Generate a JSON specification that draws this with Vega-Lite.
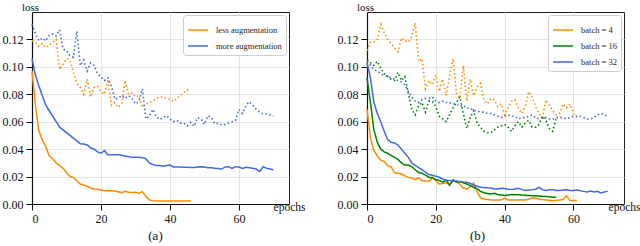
{
"$schema":"https://vega.github.io/schema/vega-lite/v6.json",
"background":"white",
"padding":{"left":1,"top":0,"right":0,"bottom":0},
"config":{
"font":"Liberation Serif, Times New Roman, serif",
"view":{"stroke":"#222","strokeWidth":1},
"axis":{"labelFont":"Liberation Serif, Times New Roman, serif","labelFontSize":12,"labelColor":"#111","tickColor":"#111","tickSize":6,"labelPadding":3,"domainColor":"#111","domainWidth":1.2,"gridColor":"#e3e3e3","gridWidth":1,"titleFont":"Liberation Serif, Times New Roman, serif","titleFontSize":11.5,"titleFontWeight":"normal","titleColor":"#111"},
"legend":{"orient":"top-right","offset":3,"fillColor":"rgba(255,255,255,0.85)","strokeColor":"#cccccc","cornerRadius":3,"padding":4,"symbolType":"stroke","symbolSize":400,"symbolStrokeWidth":1.5,"labelFont":"Liberation Serif, Times New Roman, serif","labelFontSize":8.5,"labelColor":"#222","rowPadding":-8.5,"labelOffset":7},
"title":{"font":"Liberation Serif, Times New Roman, serif","fontSize":13,"fontWeight":"normal","color":"#111"}
},
"datasets":{
"a":[
{"series":"less augmentation","kind":"train","epoch":0,"loss":0.097},{"series":"less augmentation","kind":"train","epoch":1,"loss":0.072},{"series":"less augmentation","kind":"train","epoch":2,"loss":0.053},{"series":"less augmentation","kind":"train","epoch":3,"loss":0.0465},{"series":"less augmentation","kind":"train","epoch":4,"loss":0.042},{"series":"less augmentation","kind":"train","epoch":5,"loss":0.035},{"series":"less augmentation","kind":"train","epoch":6,"loss":0.033},{"series":"less augmentation","kind":"train","epoch":7,"loss":0.030},{"series":"less augmentation","kind":"train","epoch":8,"loss":0.028},{"series":"less augmentation","kind":"train","epoch":9,"loss":0.026},
{"series":"less augmentation","kind":"train","epoch":10,"loss":0.023},{"series":"less augmentation","kind":"train","epoch":11,"loss":0.020},{"series":"less augmentation","kind":"train","epoch":12,"loss":0.0194},{"series":"less augmentation","kind":"train","epoch":13,"loss":0.017},{"series":"less augmentation","kind":"train","epoch":14,"loss":0.0146},{"series":"less augmentation","kind":"train","epoch":15,"loss":0.0138},{"series":"less augmentation","kind":"train","epoch":16,"loss":0.013},{"series":"less augmentation","kind":"train","epoch":17,"loss":0.0115},{"series":"less augmentation","kind":"train","epoch":18,"loss":0.011},{"series":"less augmentation","kind":"train","epoch":19,"loss":0.0108},
{"series":"less augmentation","kind":"train","epoch":20,"loss":0.0102},{"series":"less augmentation","kind":"train","epoch":21,"loss":0.0097},{"series":"less augmentation","kind":"train","epoch":22,"loss":0.0099},{"series":"less augmentation","kind":"train","epoch":23,"loss":0.0097},{"series":"less augmentation","kind":"train","epoch":24,"loss":0.0095},{"series":"less augmentation","kind":"train","epoch":25,"loss":0.009},{"series":"less augmentation","kind":"train","epoch":26,"loss":0.0083},{"series":"less augmentation","kind":"train","epoch":27,"loss":0.0093},{"series":"less augmentation","kind":"train","epoch":28,"loss":0.0086},{"series":"less augmentation","kind":"train","epoch":29,"loss":0.0084},
{"series":"less augmentation","kind":"train","epoch":30,"loss":0.0086},{"series":"less augmentation","kind":"train","epoch":31,"loss":0.0078},{"series":"less augmentation","kind":"train","epoch":32,"loss":0.009},{"series":"less augmentation","kind":"train","epoch":33,"loss":0.0055},{"series":"less augmentation","kind":"train","epoch":34,"loss":0.003},{"series":"less augmentation","kind":"train","epoch":35,"loss":0.0024},{"series":"less augmentation","kind":"train","epoch":36,"loss":0.0022},{"series":"less augmentation","kind":"train","epoch":37,"loss":0.0022},{"series":"less augmentation","kind":"train","epoch":38,"loss":0.0022},{"series":"less augmentation","kind":"train","epoch":39,"loss":0.0021},
{"series":"less augmentation","kind":"train","epoch":40,"loss":0.0021},{"series":"less augmentation","kind":"train","epoch":41,"loss":0.0021},{"series":"less augmentation","kind":"train","epoch":42,"loss":0.0021},{"series":"less augmentation","kind":"train","epoch":43,"loss":0.0021},{"series":"less augmentation","kind":"train","epoch":44,"loss":0.0022},{"series":"less augmentation","kind":"train","epoch":45,"loss":0.0022},{"series":"less augmentation","kind":"train","epoch":46,"loss":0.0023},
{"series":"less augmentation","kind":"val","epoch":0,"loss":0.119},{"series":"less augmentation","kind":"val","epoch":1,"loss":0.118},{"series":"less augmentation","kind":"val","epoch":2,"loss":0.115},{"series":"less augmentation","kind":"val","epoch":3,"loss":0.117},{"series":"less augmentation","kind":"val","epoch":4,"loss":0.114},{"series":"less augmentation","kind":"val","epoch":5,"loss":0.116},{"series":"less augmentation","kind":"val","epoch":6,"loss":0.118},{"series":"less augmentation","kind":"val","epoch":7,"loss":0.120},{"series":"less augmentation","kind":"val","epoch":8,"loss":0.098},{"series":"less augmentation","kind":"val","epoch":9,"loss":0.102},
{"series":"less augmentation","kind":"val","epoch":10,"loss":0.106},{"series":"less augmentation","kind":"val","epoch":11,"loss":0.105},{"series":"less augmentation","kind":"val","epoch":12,"loss":0.096},{"series":"less augmentation","kind":"val","epoch":13,"loss":0.088},{"series":"less augmentation","kind":"val","epoch":14,"loss":0.085},{"series":"less augmentation","kind":"val","epoch":15,"loss":0.080},{"series":"less augmentation","kind":"val","epoch":16,"loss":0.091},{"series":"less augmentation","kind":"val","epoch":17,"loss":0.078},{"series":"less augmentation","kind":"val","epoch":18,"loss":0.085},{"series":"less augmentation","kind":"val","epoch":19,"loss":0.086},
{"series":"less augmentation","kind":"val","epoch":20,"loss":0.082},{"series":"less augmentation","kind":"val","epoch":21,"loss":0.080},{"series":"less augmentation","kind":"val","epoch":22,"loss":0.091},{"series":"less augmentation","kind":"val","epoch":23,"loss":0.072},{"series":"less augmentation","kind":"val","epoch":24,"loss":0.074},{"series":"less augmentation","kind":"val","epoch":25,"loss":0.0705},{"series":"less augmentation","kind":"val","epoch":26,"loss":0.073},{"series":"less augmentation","kind":"val","epoch":27,"loss":0.090},{"series":"less augmentation","kind":"val","epoch":28,"loss":0.080},{"series":"less augmentation","kind":"val","epoch":29,"loss":0.081},
{"series":"less augmentation","kind":"val","epoch":30,"loss":0.078},{"series":"less augmentation","kind":"val","epoch":31,"loss":0.079},{"series":"less augmentation","kind":"val","epoch":32,"loss":0.0705},{"series":"less augmentation","kind":"val","epoch":33,"loss":0.073},{"series":"less augmentation","kind":"val","epoch":34,"loss":0.074},{"series":"less augmentation","kind":"val","epoch":35,"loss":0.075},{"series":"less augmentation","kind":"val","epoch":36,"loss":0.077},{"series":"less augmentation","kind":"val","epoch":37,"loss":0.078},{"series":"less augmentation","kind":"val","epoch":38,"loss":0.078},{"series":"less augmentation","kind":"val","epoch":39,"loss":0.077},
{"series":"less augmentation","kind":"val","epoch":40,"loss":0.0765},{"series":"less augmentation","kind":"val","epoch":41,"loss":0.0746},{"series":"less augmentation","kind":"val","epoch":42,"loss":0.077},{"series":"less augmentation","kind":"val","epoch":43,"loss":0.0794},{"series":"less augmentation","kind":"val","epoch":44,"loss":0.0814},{"series":"less augmentation","kind":"val","epoch":45,"loss":0.0833},{"series":"less augmentation","kind":"val","epoch":46,"loss":0.082},
{"series":"more augmentation","kind":"train","epoch":0,"loss":0.106},{"series":"more augmentation","kind":"train","epoch":1,"loss":0.094},{"series":"more augmentation","kind":"train","epoch":2,"loss":0.086},{"series":"more augmentation","kind":"train","epoch":3,"loss":0.079},{"series":"more augmentation","kind":"train","epoch":4,"loss":0.072},{"series":"more augmentation","kind":"train","epoch":5,"loss":0.068},{"series":"more augmentation","kind":"train","epoch":6,"loss":0.064},{"series":"more augmentation","kind":"train","epoch":7,"loss":0.060},{"series":"more augmentation","kind":"train","epoch":8,"loss":0.056},{"series":"more augmentation","kind":"train","epoch":9,"loss":0.054},
{"series":"more augmentation","kind":"train","epoch":10,"loss":0.052},{"series":"more augmentation","kind":"train","epoch":11,"loss":0.050},{"series":"more augmentation","kind":"train","epoch":12,"loss":0.048},{"series":"more augmentation","kind":"train","epoch":13,"loss":0.046},{"series":"more augmentation","kind":"train","epoch":14,"loss":0.044},{"series":"more augmentation","kind":"train","epoch":15,"loss":0.0437},{"series":"more augmentation","kind":"train","epoch":16,"loss":0.043},{"series":"more augmentation","kind":"train","epoch":17,"loss":0.041},{"series":"more augmentation","kind":"train","epoch":18,"loss":0.040},{"series":"more augmentation","kind":"train","epoch":19,"loss":0.038},
{"series":"more augmentation","kind":"train","epoch":20,"loss":0.037},{"series":"more augmentation","kind":"train","epoch":21,"loss":0.039},{"series":"more augmentation","kind":"train","epoch":22,"loss":0.0357},{"series":"more augmentation","kind":"train","epoch":23,"loss":0.036},{"series":"more augmentation","kind":"train","epoch":24,"loss":0.036},{"series":"more augmentation","kind":"train","epoch":25,"loss":0.036},{"series":"more augmentation","kind":"train","epoch":26,"loss":0.0355},{"series":"more augmentation","kind":"train","epoch":27,"loss":0.035},{"series":"more augmentation","kind":"train","epoch":28,"loss":0.0345},{"series":"more augmentation","kind":"train","epoch":29,"loss":0.034},
{"series":"more augmentation","kind":"train","epoch":30,"loss":0.034},{"series":"more augmentation","kind":"train","epoch":31,"loss":0.034},{"series":"more augmentation","kind":"train","epoch":32,"loss":0.0338},{"series":"more augmentation","kind":"train","epoch":33,"loss":0.033},{"series":"more augmentation","kind":"train","epoch":34,"loss":0.030},{"series":"more augmentation","kind":"train","epoch":35,"loss":0.0288},{"series":"more augmentation","kind":"train","epoch":36,"loss":0.028},{"series":"more augmentation","kind":"train","epoch":37,"loss":0.028},{"series":"more augmentation","kind":"train","epoch":38,"loss":0.0275},{"series":"more augmentation","kind":"train","epoch":39,"loss":0.028},
{"series":"more augmentation","kind":"train","epoch":40,"loss":0.0284},{"series":"more augmentation","kind":"train","epoch":41,"loss":0.027},{"series":"more augmentation","kind":"train","epoch":42,"loss":0.027},{"series":"more augmentation","kind":"train","epoch":43,"loss":0.027},{"series":"more augmentation","kind":"train","epoch":44,"loss":0.0268},{"series":"more augmentation","kind":"train","epoch":45,"loss":0.0268},{"series":"more augmentation","kind":"train","epoch":46,"loss":0.0267},{"series":"more augmentation","kind":"train","epoch":47,"loss":0.0267},{"series":"more augmentation","kind":"train","epoch":48,"loss":0.027},{"series":"more augmentation","kind":"train","epoch":49,"loss":0.0272},
{"series":"more augmentation","kind":"train","epoch":50,"loss":0.027},{"series":"more augmentation","kind":"train","epoch":51,"loss":0.0265},{"series":"more augmentation","kind":"train","epoch":52,"loss":0.0265},{"series":"more augmentation","kind":"train","epoch":53,"loss":0.026},{"series":"more augmentation","kind":"train","epoch":54,"loss":0.0258},{"series":"more augmentation","kind":"train","epoch":55,"loss":0.0255},{"series":"more augmentation","kind":"train","epoch":56,"loss":0.027},{"series":"more augmentation","kind":"train","epoch":57,"loss":0.0272},{"series":"more augmentation","kind":"train","epoch":58,"loss":0.026},{"series":"more augmentation","kind":"train","epoch":59,"loss":0.0272},
{"series":"more augmentation","kind":"train","epoch":60,"loss":0.027},{"series":"more augmentation","kind":"train","epoch":61,"loss":0.026},{"series":"more augmentation","kind":"train","epoch":62,"loss":0.0268},{"series":"more augmentation","kind":"train","epoch":63,"loss":0.0265},{"series":"more augmentation","kind":"train","epoch":64,"loss":0.026},{"series":"more augmentation","kind":"train","epoch":65,"loss":0.0255},{"series":"more augmentation","kind":"train","epoch":66,"loss":0.0238},{"series":"more augmentation","kind":"train","epoch":67,"loss":0.0272},{"series":"more augmentation","kind":"train","epoch":68,"loss":0.026},{"series":"more augmentation","kind":"train","epoch":69,"loss":0.0255},{"series":"more augmentation","kind":"train","epoch":70,"loss":0.025},
{"series":"more augmentation","kind":"val","epoch":0,"loss":0.131},{"series":"more augmentation","kind":"val","epoch":1,"loss":0.124},{"series":"more augmentation","kind":"val","epoch":2,"loss":0.119},{"series":"more augmentation","kind":"val","epoch":3,"loss":0.121},{"series":"more augmentation","kind":"val","epoch":4,"loss":0.119},{"series":"more augmentation","kind":"val","epoch":5,"loss":0.123},{"series":"more augmentation","kind":"val","epoch":6,"loss":0.124},{"series":"more augmentation","kind":"val","epoch":7,"loss":0.1225},{"series":"more augmentation","kind":"val","epoch":8,"loss":0.127},{"series":"more augmentation","kind":"val","epoch":9,"loss":0.113},
{"series":"more augmentation","kind":"val","epoch":10,"loss":0.112},{"series":"more augmentation","kind":"val","epoch":11,"loss":0.108},{"series":"more augmentation","kind":"val","epoch":12,"loss":0.107},{"series":"more augmentation","kind":"val","epoch":13,"loss":0.126},{"series":"more augmentation","kind":"val","epoch":14,"loss":0.101},{"series":"more augmentation","kind":"val","epoch":15,"loss":0.105},{"series":"more augmentation","kind":"val","epoch":16,"loss":0.097},{"series":"more augmentation","kind":"val","epoch":17,"loss":0.103},{"series":"more augmentation","kind":"val","epoch":18,"loss":0.101},{"series":"more augmentation","kind":"val","epoch":19,"loss":0.095},
{"series":"more augmentation","kind":"val","epoch":20,"loss":0.0925},{"series":"more augmentation","kind":"val","epoch":21,"loss":0.090},{"series":"more augmentation","kind":"val","epoch":22,"loss":0.092},{"series":"more augmentation","kind":"val","epoch":23,"loss":0.086},{"series":"more augmentation","kind":"val","epoch":24,"loss":0.0765},{"series":"more augmentation","kind":"val","epoch":25,"loss":0.077},{"series":"more augmentation","kind":"val","epoch":26,"loss":0.079},{"series":"more augmentation","kind":"val","epoch":27,"loss":0.077},{"series":"more augmentation","kind":"val","epoch":28,"loss":0.079},{"series":"more augmentation","kind":"val","epoch":29,"loss":0.077},
{"series":"more augmentation","kind":"val","epoch":30,"loss":0.073},{"series":"more augmentation","kind":"val","epoch":31,"loss":0.0745},{"series":"more augmentation","kind":"val","epoch":32,"loss":0.084},{"series":"more augmentation","kind":"val","epoch":33,"loss":0.062},{"series":"more augmentation","kind":"val","epoch":34,"loss":0.064},{"series":"more augmentation","kind":"val","epoch":35,"loss":0.069},{"series":"more augmentation","kind":"val","epoch":36,"loss":0.064},{"series":"more augmentation","kind":"val","epoch":37,"loss":0.0615},{"series":"more augmentation","kind":"val","epoch":38,"loss":0.063},{"series":"more augmentation","kind":"val","epoch":39,"loss":0.0644},
{"series":"more augmentation","kind":"val","epoch":40,"loss":0.062},{"series":"more augmentation","kind":"val","epoch":41,"loss":0.060},{"series":"more augmentation","kind":"val","epoch":42,"loss":0.061},{"series":"more augmentation","kind":"val","epoch":43,"loss":0.059},{"series":"more augmentation","kind":"val","epoch":44,"loss":0.059},{"series":"more augmentation","kind":"val","epoch":45,"loss":0.057},{"series":"more augmentation","kind":"val","epoch":46,"loss":0.0595},{"series":"more augmentation","kind":"val","epoch":47,"loss":0.0566},{"series":"more augmentation","kind":"val","epoch":48,"loss":0.063},{"series":"more augmentation","kind":"val","epoch":49,"loss":0.062},
{"series":"more augmentation","kind":"val","epoch":50,"loss":0.058},{"series":"more augmentation","kind":"val","epoch":51,"loss":0.0644},{"series":"more augmentation","kind":"val","epoch":52,"loss":0.063},{"series":"more augmentation","kind":"val","epoch":53,"loss":0.0585},{"series":"more augmentation","kind":"val","epoch":54,"loss":0.059},{"series":"more augmentation","kind":"val","epoch":55,"loss":0.0576},{"series":"more augmentation","kind":"val","epoch":56,"loss":0.058},{"series":"more augmentation","kind":"val","epoch":57,"loss":0.059},{"series":"more augmentation","kind":"val","epoch":58,"loss":0.060},{"series":"more augmentation","kind":"val","epoch":59,"loss":0.061},
{"series":"more augmentation","kind":"val","epoch":60,"loss":0.069},{"series":"more augmentation","kind":"val","epoch":61,"loss":0.066},{"series":"more augmentation","kind":"val","epoch":62,"loss":0.0717},{"series":"more augmentation","kind":"val","epoch":63,"loss":0.0746},{"series":"more augmentation","kind":"val","epoch":64,"loss":0.072},{"series":"more augmentation","kind":"val","epoch":65,"loss":0.069},{"series":"more augmentation","kind":"val","epoch":66,"loss":0.067},{"series":"more augmentation","kind":"val","epoch":67,"loss":0.0656},{"series":"more augmentation","kind":"val","epoch":68,"loss":0.0656},{"series":"more augmentation","kind":"val","epoch":69,"loss":0.065},{"series":"more augmentation","kind":"val","epoch":70,"loss":0.0639}
],
"b":[
{"series":"batch = 4","kind":"train","epoch":0,"loss":0.069},{"series":"batch = 4","kind":"train","epoch":1,"loss":0.048},{"series":"batch = 4","kind":"train","epoch":2,"loss":0.039},{"series":"batch = 4","kind":"train","epoch":3,"loss":0.035},{"series":"batch = 4","kind":"train","epoch":4,"loss":0.032},{"series":"batch = 4","kind":"train","epoch":5,"loss":0.031},{"series":"batch = 4","kind":"train","epoch":6,"loss":0.028},{"series":"batch = 4","kind":"train","epoch":7,"loss":0.027},{"series":"batch = 4","kind":"train","epoch":8,"loss":0.023},{"series":"batch = 4","kind":"train","epoch":9,"loss":0.0225},
{"series":"batch = 4","kind":"train","epoch":10,"loss":0.022},{"series":"batch = 4","kind":"train","epoch":11,"loss":0.0206},{"series":"batch = 4","kind":"train","epoch":12,"loss":0.0194},{"series":"batch = 4","kind":"train","epoch":13,"loss":0.019},{"series":"batch = 4","kind":"train","epoch":14,"loss":0.0177},{"series":"batch = 4","kind":"train","epoch":15,"loss":0.019},{"series":"batch = 4","kind":"train","epoch":16,"loss":0.017},{"series":"batch = 4","kind":"train","epoch":17,"loss":0.017},{"series":"batch = 4","kind":"train","epoch":18,"loss":0.0165},{"series":"batch = 4","kind":"train","epoch":19,"loss":0.0194},
{"series":"batch = 4","kind":"train","epoch":20,"loss":0.017},{"series":"batch = 4","kind":"train","epoch":21,"loss":0.0146},{"series":"batch = 4","kind":"train","epoch":22,"loss":0.015},{"series":"batch = 4","kind":"train","epoch":23,"loss":0.0155},{"series":"batch = 4","kind":"train","epoch":24,"loss":0.0138},{"series":"batch = 4","kind":"train","epoch":25,"loss":0.017},{"series":"batch = 4","kind":"train","epoch":26,"loss":0.016},{"series":"batch = 4","kind":"train","epoch":27,"loss":0.0146},{"series":"batch = 4","kind":"train","epoch":28,"loss":0.0115},{"series":"batch = 4","kind":"train","epoch":29,"loss":0.011},
{"series":"batch = 4","kind":"train","epoch":30,"loss":0.0125},{"series":"batch = 4","kind":"train","epoch":31,"loss":0.0153},{"series":"batch = 4","kind":"train","epoch":32,"loss":0.009},{"series":"batch = 4","kind":"train","epoch":33,"loss":0.0045},{"series":"batch = 4","kind":"train","epoch":34,"loss":0.0037},{"series":"batch = 4","kind":"train","epoch":35,"loss":0.0032},{"series":"batch = 4","kind":"train","epoch":36,"loss":0.003},{"series":"batch = 4","kind":"train","epoch":37,"loss":0.0029},{"series":"batch = 4","kind":"train","epoch":38,"loss":0.0029},{"series":"batch = 4","kind":"train","epoch":39,"loss":0.003},
{"series":"batch = 4","kind":"train","epoch":40,"loss":0.0041},{"series":"batch = 4","kind":"train","epoch":41,"loss":0.003},{"series":"batch = 4","kind":"train","epoch":42,"loss":0.003},{"series":"batch = 4","kind":"train","epoch":43,"loss":0.0029},{"series":"batch = 4","kind":"train","epoch":44,"loss":0.0029},{"series":"batch = 4","kind":"train","epoch":45,"loss":0.003},{"series":"batch = 4","kind":"train","epoch":46,"loss":0.003},{"series":"batch = 4","kind":"train","epoch":47,"loss":0.0035},{"series":"batch = 4","kind":"train","epoch":48,"loss":0.0044},{"series":"batch = 4","kind":"train","epoch":49,"loss":0.0043},
{"series":"batch = 4","kind":"train","epoch":50,"loss":0.0035},{"series":"batch = 4","kind":"train","epoch":51,"loss":0.0032},{"series":"batch = 4","kind":"train","epoch":52,"loss":0.003},{"series":"batch = 4","kind":"train","epoch":53,"loss":0.0027},{"series":"batch = 4","kind":"train","epoch":54,"loss":0.0024},{"series":"batch = 4","kind":"train","epoch":55,"loss":0.0028},{"series":"batch = 4","kind":"train","epoch":56,"loss":0.003},{"series":"batch = 4","kind":"train","epoch":57,"loss":0.0032},{"series":"batch = 4","kind":"train","epoch":58,"loss":0.006},{"series":"batch = 4","kind":"train","epoch":59,"loss":0.0025},
{"series":"batch = 4","kind":"train","epoch":60,"loss":0.0025},{"series":"batch = 4","kind":"train","epoch":61,"loss":0.0025},
{"series":"batch = 4","kind":"val","epoch":0,"loss":0.112},{"series":"batch = 4","kind":"val","epoch":1,"loss":0.118},{"series":"batch = 4","kind":"val","epoch":2,"loss":0.118},{"series":"batch = 4","kind":"val","epoch":3,"loss":0.120},{"series":"batch = 4","kind":"val","epoch":4,"loss":0.131},{"series":"batch = 4","kind":"val","epoch":5,"loss":0.125},{"series":"batch = 4","kind":"val","epoch":6,"loss":0.120},{"series":"batch = 4","kind":"val","epoch":7,"loss":0.117},{"series":"batch = 4","kind":"val","epoch":8,"loss":0.114},{"series":"batch = 4","kind":"val","epoch":9,"loss":0.111},
{"series":"batch = 4","kind":"val","epoch":10,"loss":0.121},{"series":"batch = 4","kind":"val","epoch":11,"loss":0.119},{"series":"batch = 4","kind":"val","epoch":12,"loss":0.118},{"series":"batch = 4","kind":"val","epoch":13,"loss":0.122},{"series":"batch = 4","kind":"val","epoch":14,"loss":0.132},{"series":"batch = 4","kind":"val","epoch":15,"loss":0.104},{"series":"batch = 4","kind":"val","epoch":16,"loss":0.106},{"series":"batch = 4","kind":"val","epoch":17,"loss":0.084},{"series":"batch = 4","kind":"val","epoch":18,"loss":0.090},{"series":"batch = 4","kind":"val","epoch":19,"loss":0.087},
{"series":"batch = 4","kind":"val","epoch":20,"loss":0.094},{"series":"batch = 4","kind":"val","epoch":21,"loss":0.082},{"series":"batch = 4","kind":"val","epoch":22,"loss":0.091},{"series":"batch = 4","kind":"val","epoch":23,"loss":0.079},{"series":"batch = 4","kind":"val","epoch":24,"loss":0.093},{"series":"batch = 4","kind":"val","epoch":25,"loss":0.106},{"series":"batch = 4","kind":"val","epoch":26,"loss":0.081},{"series":"batch = 4","kind":"val","epoch":27,"loss":0.077},{"series":"batch = 4","kind":"val","epoch":28,"loss":0.101},{"series":"batch = 4","kind":"val","epoch":29,"loss":0.075},
{"series":"batch = 4","kind":"val","epoch":30,"loss":0.091},{"series":"batch = 4","kind":"val","epoch":31,"loss":0.079},{"series":"batch = 4","kind":"val","epoch":32,"loss":0.085},{"series":"batch = 4","kind":"val","epoch":33,"loss":0.088},{"series":"batch = 4","kind":"val","epoch":34,"loss":0.075},{"series":"batch = 4","kind":"val","epoch":35,"loss":0.073},{"series":"batch = 4","kind":"val","epoch":36,"loss":0.077},{"series":"batch = 4","kind":"val","epoch":37,"loss":0.076},{"series":"batch = 4","kind":"val","epoch":38,"loss":0.071},{"series":"batch = 4","kind":"val","epoch":39,"loss":0.073},
{"series":"batch = 4","kind":"val","epoch":40,"loss":0.065},{"series":"batch = 4","kind":"val","epoch":41,"loss":0.070},{"series":"batch = 4","kind":"val","epoch":42,"loss":0.075},{"series":"batch = 4","kind":"val","epoch":43,"loss":0.076},{"series":"batch = 4","kind":"val","epoch":44,"loss":0.070},{"series":"batch = 4","kind":"val","epoch":45,"loss":0.066},{"series":"batch = 4","kind":"val","epoch":46,"loss":0.071},{"series":"batch = 4","kind":"val","epoch":47,"loss":0.082},{"series":"batch = 4","kind":"val","epoch":48,"loss":0.078},{"series":"batch = 4","kind":"val","epoch":49,"loss":0.071},
{"series":"batch = 4","kind":"val","epoch":50,"loss":0.066},{"series":"batch = 4","kind":"val","epoch":51,"loss":0.063},{"series":"batch = 4","kind":"val","epoch":52,"loss":0.076},{"series":"batch = 4","kind":"val","epoch":53,"loss":0.072},{"series":"batch = 4","kind":"val","epoch":54,"loss":0.068},{"series":"batch = 4","kind":"val","epoch":55,"loss":0.065},{"series":"batch = 4","kind":"val","epoch":56,"loss":0.066},{"series":"batch = 4","kind":"val","epoch":57,"loss":0.073},{"series":"batch = 4","kind":"val","epoch":58,"loss":0.070},{"series":"batch = 4","kind":"val","epoch":59,"loss":0.073},
{"series":"batch = 4","kind":"val","epoch":60,"loss":0.066},{"series":"batch = 4","kind":"val","epoch":61,"loss":0.063},
{"series":"batch = 16","kind":"train","epoch":0,"loss":0.092},{"series":"batch = 16","kind":"train","epoch":1,"loss":0.074},{"series":"batch = 16","kind":"train","epoch":2,"loss":0.054},{"series":"batch = 16","kind":"train","epoch":3,"loss":0.045},{"series":"batch = 16","kind":"train","epoch":4,"loss":0.040},{"series":"batch = 16","kind":"train","epoch":5,"loss":0.038},{"series":"batch = 16","kind":"train","epoch":6,"loss":0.037},{"series":"batch = 16","kind":"train","epoch":7,"loss":0.0355},{"series":"batch = 16","kind":"train","epoch":8,"loss":0.034},{"series":"batch = 16","kind":"train","epoch":9,"loss":0.0325},
{"series":"batch = 16","kind":"train","epoch":10,"loss":0.030},{"series":"batch = 16","kind":"train","epoch":11,"loss":0.0284},{"series":"batch = 16","kind":"train","epoch":12,"loss":0.0284},{"series":"batch = 16","kind":"train","epoch":13,"loss":0.0273},{"series":"batch = 16","kind":"train","epoch":14,"loss":0.025},{"series":"batch = 16","kind":"train","epoch":15,"loss":0.023},{"series":"batch = 16","kind":"train","epoch":16,"loss":0.0225},{"series":"batch = 16","kind":"train","epoch":17,"loss":0.021},{"series":"batch = 16","kind":"train","epoch":18,"loss":0.0195},{"series":"batch = 16","kind":"train","epoch":19,"loss":0.019},
{"series":"batch = 16","kind":"train","epoch":20,"loss":0.0178},{"series":"batch = 16","kind":"train","epoch":21,"loss":0.0172},{"series":"batch = 16","kind":"train","epoch":22,"loss":0.016},{"series":"batch = 16","kind":"train","epoch":23,"loss":0.0175},{"series":"batch = 16","kind":"train","epoch":24,"loss":0.0138},{"series":"batch = 16","kind":"train","epoch":25,"loss":0.0177},{"series":"batch = 16","kind":"train","epoch":26,"loss":0.016},{"series":"batch = 16","kind":"train","epoch":27,"loss":0.0163},{"series":"batch = 16","kind":"train","epoch":28,"loss":0.0155},{"series":"batch = 16","kind":"train","epoch":29,"loss":0.0146},
{"series":"batch = 16","kind":"train","epoch":30,"loss":0.0134},{"series":"batch = 16","kind":"train","epoch":31,"loss":0.0122},{"series":"batch = 16","kind":"train","epoch":32,"loss":0.011},{"series":"batch = 16","kind":"train","epoch":33,"loss":0.0092},{"series":"batch = 16","kind":"train","epoch":34,"loss":0.0082},{"series":"batch = 16","kind":"train","epoch":35,"loss":0.0076},{"series":"batch = 16","kind":"train","epoch":36,"loss":0.0073},{"series":"batch = 16","kind":"train","epoch":37,"loss":0.0078},{"series":"batch = 16","kind":"train","epoch":38,"loss":0.007},{"series":"batch = 16","kind":"train","epoch":39,"loss":0.0066},
{"series":"batch = 16","kind":"train","epoch":40,"loss":0.0062},{"series":"batch = 16","kind":"train","epoch":41,"loss":0.0065},{"series":"batch = 16","kind":"train","epoch":42,"loss":0.007},{"series":"batch = 16","kind":"train","epoch":43,"loss":0.0068},{"series":"batch = 16","kind":"train","epoch":44,"loss":0.0067},{"series":"batch = 16","kind":"train","epoch":45,"loss":0.0065},{"series":"batch = 16","kind":"train","epoch":46,"loss":0.0064},{"series":"batch = 16","kind":"train","epoch":47,"loss":0.0062},{"series":"batch = 16","kind":"train","epoch":48,"loss":0.006},{"series":"batch = 16","kind":"train","epoch":49,"loss":0.006},
{"series":"batch = 16","kind":"train","epoch":50,"loss":0.0058},{"series":"batch = 16","kind":"train","epoch":51,"loss":0.0056},{"series":"batch = 16","kind":"train","epoch":52,"loss":0.0055},{"series":"batch = 16","kind":"train","epoch":53,"loss":0.0052},{"series":"batch = 16","kind":"train","epoch":54,"loss":0.005},{"series":"batch = 16","kind":"train","epoch":55,"loss":0.005},
{"series":"batch = 16","kind":"val","epoch":0,"loss":0.105},{"series":"batch = 16","kind":"val","epoch":1,"loss":0.103},{"series":"batch = 16","kind":"val","epoch":2,"loss":0.101},{"series":"batch = 16","kind":"val","epoch":3,"loss":0.104},{"series":"batch = 16","kind":"val","epoch":4,"loss":0.099},{"series":"batch = 16","kind":"val","epoch":5,"loss":0.095},{"series":"batch = 16","kind":"val","epoch":6,"loss":0.093},{"series":"batch = 16","kind":"val","epoch":7,"loss":0.091},{"series":"batch = 16","kind":"val","epoch":8,"loss":0.090},{"series":"batch = 16","kind":"val","epoch":9,"loss":0.096},
{"series":"batch = 16","kind":"val","epoch":10,"loss":0.090},{"series":"batch = 16","kind":"val","epoch":11,"loss":0.093},{"series":"batch = 16","kind":"val","epoch":12,"loss":0.081},{"series":"batch = 16","kind":"val","epoch":13,"loss":0.069},{"series":"batch = 16","kind":"val","epoch":14,"loss":0.065},{"series":"batch = 16","kind":"val","epoch":15,"loss":0.072},{"series":"batch = 16","kind":"val","epoch":16,"loss":0.074},{"series":"batch = 16","kind":"val","epoch":17,"loss":0.067},{"series":"batch = 16","kind":"val","epoch":18,"loss":0.075},{"series":"batch = 16","kind":"val","epoch":19,"loss":0.075},
{"series":"batch = 16","kind":"val","epoch":20,"loss":0.071},{"series":"batch = 16","kind":"val","epoch":21,"loss":0.064},{"series":"batch = 16","kind":"val","epoch":22,"loss":0.062},{"series":"batch = 16","kind":"val","epoch":23,"loss":0.060},{"series":"batch = 16","kind":"val","epoch":24,"loss":0.065},{"series":"batch = 16","kind":"val","epoch":25,"loss":0.070},{"series":"batch = 16","kind":"val","epoch":26,"loss":0.074},{"series":"batch = 16","kind":"val","epoch":27,"loss":0.078},{"series":"batch = 16","kind":"val","epoch":28,"loss":0.066},{"series":"batch = 16","kind":"val","epoch":29,"loss":0.055},
{"series":"batch = 16","kind":"val","epoch":30,"loss":0.063},{"series":"batch = 16","kind":"val","epoch":31,"loss":0.068},{"series":"batch = 16","kind":"val","epoch":32,"loss":0.059},{"series":"batch = 16","kind":"val","epoch":33,"loss":0.056},{"series":"batch = 16","kind":"val","epoch":34,"loss":0.053},{"series":"batch = 16","kind":"val","epoch":35,"loss":0.052},{"series":"batch = 16","kind":"val","epoch":36,"loss":0.052},{"series":"batch = 16","kind":"val","epoch":37,"loss":0.054},{"series":"batch = 16","kind":"val","epoch":38,"loss":0.056},{"series":"batch = 16","kind":"val","epoch":39,"loss":0.057},
{"series":"batch = 16","kind":"val","epoch":40,"loss":0.058},{"series":"batch = 16","kind":"val","epoch":41,"loss":0.056},{"series":"batch = 16","kind":"val","epoch":42,"loss":0.053},{"series":"batch = 16","kind":"val","epoch":43,"loss":0.057},{"series":"batch = 16","kind":"val","epoch":44,"loss":0.060},{"series":"batch = 16","kind":"val","epoch":45,"loss":0.056},{"series":"batch = 16","kind":"val","epoch":46,"loss":0.059},{"series":"batch = 16","kind":"val","epoch":47,"loss":0.061},{"series":"batch = 16","kind":"val","epoch":48,"loss":0.056},{"series":"batch = 16","kind":"val","epoch":49,"loss":0.056},
{"series":"batch = 16","kind":"val","epoch":50,"loss":0.058},{"series":"batch = 16","kind":"val","epoch":51,"loss":0.064},{"series":"batch = 16","kind":"val","epoch":52,"loss":0.061},{"series":"batch = 16","kind":"val","epoch":53,"loss":0.055},{"series":"batch = 16","kind":"val","epoch":54,"loss":0.053},{"series":"batch = 16","kind":"val","epoch":55,"loss":0.063},
{"series":"batch = 32","kind":"train","epoch":0,"loss":0.103},{"series":"batch = 32","kind":"train","epoch":1,"loss":0.092},{"series":"batch = 32","kind":"train","epoch":2,"loss":0.074},{"series":"batch = 32","kind":"train","epoch":3,"loss":0.066},{"series":"batch = 32","kind":"train","epoch":4,"loss":0.060},{"series":"batch = 32","kind":"train","epoch":5,"loss":0.053},{"series":"batch = 32","kind":"train","epoch":6,"loss":0.047},{"series":"batch = 32","kind":"train","epoch":7,"loss":0.045},{"series":"batch = 32","kind":"train","epoch":8,"loss":0.0445},{"series":"batch = 32","kind":"train","epoch":9,"loss":0.043},
{"series":"batch = 32","kind":"train","epoch":10,"loss":0.040},{"series":"batch = 32","kind":"train","epoch":11,"loss":0.037},{"series":"batch = 32","kind":"train","epoch":12,"loss":0.034},{"series":"batch = 32","kind":"train","epoch":13,"loss":0.030},{"series":"batch = 32","kind":"train","epoch":14,"loss":0.0282},{"series":"batch = 32","kind":"train","epoch":15,"loss":0.0265},{"series":"batch = 32","kind":"train","epoch":16,"loss":0.025},{"series":"batch = 32","kind":"train","epoch":17,"loss":0.0232},{"series":"batch = 32","kind":"train","epoch":18,"loss":0.0215},{"series":"batch = 32","kind":"train","epoch":19,"loss":0.021},
{"series":"batch = 32","kind":"train","epoch":20,"loss":0.0203},{"series":"batch = 32","kind":"train","epoch":21,"loss":0.0195},{"series":"batch = 32","kind":"train","epoch":22,"loss":0.0182},{"series":"batch = 32","kind":"train","epoch":23,"loss":0.0173},{"series":"batch = 32","kind":"train","epoch":24,"loss":0.0172},{"series":"batch = 32","kind":"train","epoch":25,"loss":0.0168},{"series":"batch = 32","kind":"train","epoch":26,"loss":0.0168},{"series":"batch = 32","kind":"train","epoch":27,"loss":0.0165},{"series":"batch = 32","kind":"train","epoch":28,"loss":0.016},{"series":"batch = 32","kind":"train","epoch":29,"loss":0.0158},
{"series":"batch = 32","kind":"train","epoch":30,"loss":0.015},{"series":"batch = 32","kind":"train","epoch":31,"loss":0.0138},{"series":"batch = 32","kind":"train","epoch":32,"loss":0.013},{"series":"batch = 32","kind":"train","epoch":33,"loss":0.0122},{"series":"batch = 32","kind":"train","epoch":34,"loss":0.0121},{"series":"batch = 32","kind":"train","epoch":35,"loss":0.0118},{"series":"batch = 32","kind":"train","epoch":36,"loss":0.0117},{"series":"batch = 32","kind":"train","epoch":37,"loss":0.011},{"series":"batch = 32","kind":"train","epoch":38,"loss":0.011},{"series":"batch = 32","kind":"train","epoch":39,"loss":0.0114},
{"series":"batch = 32","kind":"train","epoch":40,"loss":0.0113},{"series":"batch = 32","kind":"train","epoch":41,"loss":0.0108},{"series":"batch = 32","kind":"train","epoch":42,"loss":0.0105},{"series":"batch = 32","kind":"train","epoch":43,"loss":0.011},{"series":"batch = 32","kind":"train","epoch":44,"loss":0.0114},{"series":"batch = 32","kind":"train","epoch":45,"loss":0.0105},{"series":"batch = 32","kind":"train","epoch":46,"loss":0.0098},{"series":"batch = 32","kind":"train","epoch":47,"loss":0.0102},{"series":"batch = 32","kind":"train","epoch":48,"loss":0.0104},{"series":"batch = 32","kind":"train","epoch":49,"loss":0.0108},
{"series":"batch = 32","kind":"train","epoch":50,"loss":0.0121},{"series":"batch = 32","kind":"train","epoch":51,"loss":0.0104},{"series":"batch = 32","kind":"train","epoch":52,"loss":0.0098},{"series":"batch = 32","kind":"train","epoch":53,"loss":0.0103},{"series":"batch = 32","kind":"train","epoch":54,"loss":0.0103},{"series":"batch = 32","kind":"train","epoch":55,"loss":0.0099},{"series":"batch = 32","kind":"train","epoch":56,"loss":0.0099},{"series":"batch = 32","kind":"train","epoch":57,"loss":0.0102},{"series":"batch = 32","kind":"train","epoch":58,"loss":0.0103},{"series":"batch = 32","kind":"train","epoch":59,"loss":0.0098},
{"series":"batch = 32","kind":"train","epoch":60,"loss":0.0098},{"series":"batch = 32","kind":"train","epoch":61,"loss":0.0102},{"series":"batch = 32","kind":"train","epoch":62,"loss":0.0097},{"series":"batch = 32","kind":"train","epoch":63,"loss":0.0092},{"series":"batch = 32","kind":"train","epoch":64,"loss":0.0088},{"series":"batch = 32","kind":"train","epoch":65,"loss":0.0095},{"series":"batch = 32","kind":"train","epoch":66,"loss":0.0087},{"series":"batch = 32","kind":"train","epoch":67,"loss":0.0092},{"series":"batch = 32","kind":"train","epoch":68,"loss":0.0081},{"series":"batch = 32","kind":"train","epoch":69,"loss":0.0088},{"series":"batch = 32","kind":"train","epoch":70,"loss":0.0094},
{"series":"batch = 32","kind":"val","epoch":0,"loss":0.104},{"series":"batch = 32","kind":"val","epoch":1,"loss":0.101},{"series":"batch = 32","kind":"val","epoch":2,"loss":0.098},{"series":"batch = 32","kind":"val","epoch":3,"loss":0.097},{"series":"batch = 32","kind":"val","epoch":4,"loss":0.095},{"series":"batch = 32","kind":"val","epoch":5,"loss":0.094},{"series":"batch = 32","kind":"val","epoch":6,"loss":0.093},{"series":"batch = 32","kind":"val","epoch":7,"loss":0.092},{"series":"batch = 32","kind":"val","epoch":8,"loss":0.091},{"series":"batch = 32","kind":"val","epoch":9,"loss":0.090},
{"series":"batch = 32","kind":"val","epoch":10,"loss":0.089},{"series":"batch = 32","kind":"val","epoch":11,"loss":0.087},{"series":"batch = 32","kind":"val","epoch":12,"loss":0.082},{"series":"batch = 32","kind":"val","epoch":13,"loss":0.078},{"series":"batch = 32","kind":"val","epoch":14,"loss":0.075},{"series":"batch = 32","kind":"val","epoch":15,"loss":0.074},{"series":"batch = 32","kind":"val","epoch":16,"loss":0.076},{"series":"batch = 32","kind":"val","epoch":17,"loss":0.077},{"series":"batch = 32","kind":"val","epoch":18,"loss":0.077},{"series":"batch = 32","kind":"val","epoch":19,"loss":0.078},
{"series":"batch = 32","kind":"val","epoch":20,"loss":0.075},{"series":"batch = 32","kind":"val","epoch":21,"loss":0.074},{"series":"batch = 32","kind":"val","epoch":22,"loss":0.075},{"series":"batch = 32","kind":"val","epoch":23,"loss":0.074},{"series":"batch = 32","kind":"val","epoch":24,"loss":0.074},{"series":"batch = 32","kind":"val","epoch":25,"loss":0.073},{"series":"batch = 32","kind":"val","epoch":26,"loss":0.073},{"series":"batch = 32","kind":"val","epoch":27,"loss":0.071},{"series":"batch = 32","kind":"val","epoch":28,"loss":0.072},{"series":"batch = 32","kind":"val","epoch":29,"loss":0.070},
{"series":"batch = 32","kind":"val","epoch":30,"loss":0.070},{"series":"batch = 32","kind":"val","epoch":31,"loss":0.068},{"series":"batch = 32","kind":"val","epoch":32,"loss":0.068},{"series":"batch = 32","kind":"val","epoch":33,"loss":0.067},{"series":"batch = 32","kind":"val","epoch":34,"loss":0.067},{"series":"batch = 32","kind":"val","epoch":35,"loss":0.066},{"series":"batch = 32","kind":"val","epoch":36,"loss":0.066},{"series":"batch = 32","kind":"val","epoch":37,"loss":0.065},{"series":"batch = 32","kind":"val","epoch":38,"loss":0.064},{"series":"batch = 32","kind":"val","epoch":39,"loss":0.063},
{"series":"batch = 32","kind":"val","epoch":40,"loss":0.064},{"series":"batch = 32","kind":"val","epoch":41,"loss":0.065},{"series":"batch = 32","kind":"val","epoch":42,"loss":0.064},{"series":"batch = 32","kind":"val","epoch":43,"loss":0.064},{"series":"batch = 32","kind":"val","epoch":44,"loss":0.062},{"series":"batch = 32","kind":"val","epoch":45,"loss":0.063},{"series":"batch = 32","kind":"val","epoch":46,"loss":0.063},{"series":"batch = 32","kind":"val","epoch":47,"loss":0.064},{"series":"batch = 32","kind":"val","epoch":48,"loss":0.065},{"series":"batch = 32","kind":"val","epoch":49,"loss":0.063},
{"series":"batch = 32","kind":"val","epoch":50,"loss":0.062},{"series":"batch = 32","kind":"val","epoch":51,"loss":0.063},{"series":"batch = 32","kind":"val","epoch":52,"loss":0.063},{"series":"batch = 32","kind":"val","epoch":53,"loss":0.062},{"series":"batch = 32","kind":"val","epoch":54,"loss":0.062},{"series":"batch = 32","kind":"val","epoch":55,"loss":0.063},{"series":"batch = 32","kind":"val","epoch":56,"loss":0.063},{"series":"batch = 32","kind":"val","epoch":57,"loss":0.063},{"series":"batch = 32","kind":"val","epoch":58,"loss":0.062},{"series":"batch = 32","kind":"val","epoch":59,"loss":0.063},
{"series":"batch = 32","kind":"val","epoch":60,"loss":0.064},{"series":"batch = 32","kind":"val","epoch":61,"loss":0.064},{"series":"batch = 32","kind":"val","epoch":62,"loss":0.064},{"series":"batch = 32","kind":"val","epoch":63,"loss":0.063},{"series":"batch = 32","kind":"val","epoch":64,"loss":0.062},{"series":"batch = 32","kind":"val","epoch":65,"loss":0.062},{"series":"batch = 32","kind":"val","epoch":66,"loss":0.063},{"series":"batch = 32","kind":"val","epoch":67,"loss":0.065},{"series":"batch = 32","kind":"val","epoch":68,"loss":0.066},{"series":"batch = 32","kind":"val","epoch":69,"loss":0.065},{"series":"batch = 32","kind":"val","epoch":70,"loss":0.064}
]
},
"spacing":30,
"resolve":{"scale":{"color":"independent"},"legend":{"color":"independent"}},
"hconcat":[
{
"title":{"text":"(a)","orient":"bottom","offset":6,"dx":-5},
"width":257,"height":192,
"data":{"name":"a"},
"encoding":{
"x":{"field":"epoch","type":"quantitative","scale":{"domain":[0,74.5],"nice":false,"zero":false},"axis":{"values":[0,20,40,60],"title":"epochs","titleX":257,"titleY":3,"titleAlign":"center","titleBaseline":"middle"}},
"y":{"field":"loss","type":"quantitative","scale":{"domain":[0,0.14],"nice":false},"axis":{"values":[0,0.02,0.04,0.06,0.08,0.1,0.12],"format":".2f","title":"loss","titleAngle":0,"titleX":-2,"titleY":-2,"titleAlign":"center","titleBaseline":"alphabetic","titleFontSize":11}},
"color":{"field":"series","type":"nominal","scale":{"domain":["less augmentation","more augmentation"],"range":["#ff8c00","#4169e1"]},"legend":{"title":null}}
},
"layer":[
{"transform":[{"filter":"datum.kind === 'train'"}],"mark":{"type":"line","strokeWidth":1.5}},
{"transform":[{"filter":"datum.kind === 'val'"}],"mark":{"type":"line","strokeWidth":1.6,"strokeDash":[1.5,2.5]}}
]
},
{
"title":{"text":"(b)","orient":"bottom","offset":6,"dx":-18},
"width":257,"height":192,
"data":{"name":"b"},
"encoding":{
"x":{"field":"epoch","type":"quantitative","scale":{"domain":[0,74.7],"nice":false,"zero":false},"axis":{"values":[0,20,40,60],"title":"epochs","titleX":257,"titleY":3,"titleAlign":"center","titleBaseline":"middle"}},
"y":{"field":"loss","type":"quantitative","scale":{"domain":[0,0.14],"nice":false},"axis":{"values":[0,0.02,0.04,0.06,0.08,0.1,0.12],"format":".2f","title":"loss","titleAngle":0,"titleX":-2,"titleY":-2,"titleAlign":"center","titleBaseline":"alphabetic","titleFontSize":11}},
"color":{"field":"series","type":"nominal","scale":{"domain":["batch = 4","batch = 16","batch = 32"],"range":["#ff8c00","#008000","#4169e1"]},"legend":{"title":null}}
},
"layer":[
{"transform":[{"filter":"datum.kind === 'train'"}],"mark":{"type":"line","strokeWidth":1.5}},
{"transform":[{"filter":"datum.kind === 'val'"}],"mark":{"type":"line","strokeWidth":1.6,"strokeDash":[1.5,2.5]}}
]
}
]
}
